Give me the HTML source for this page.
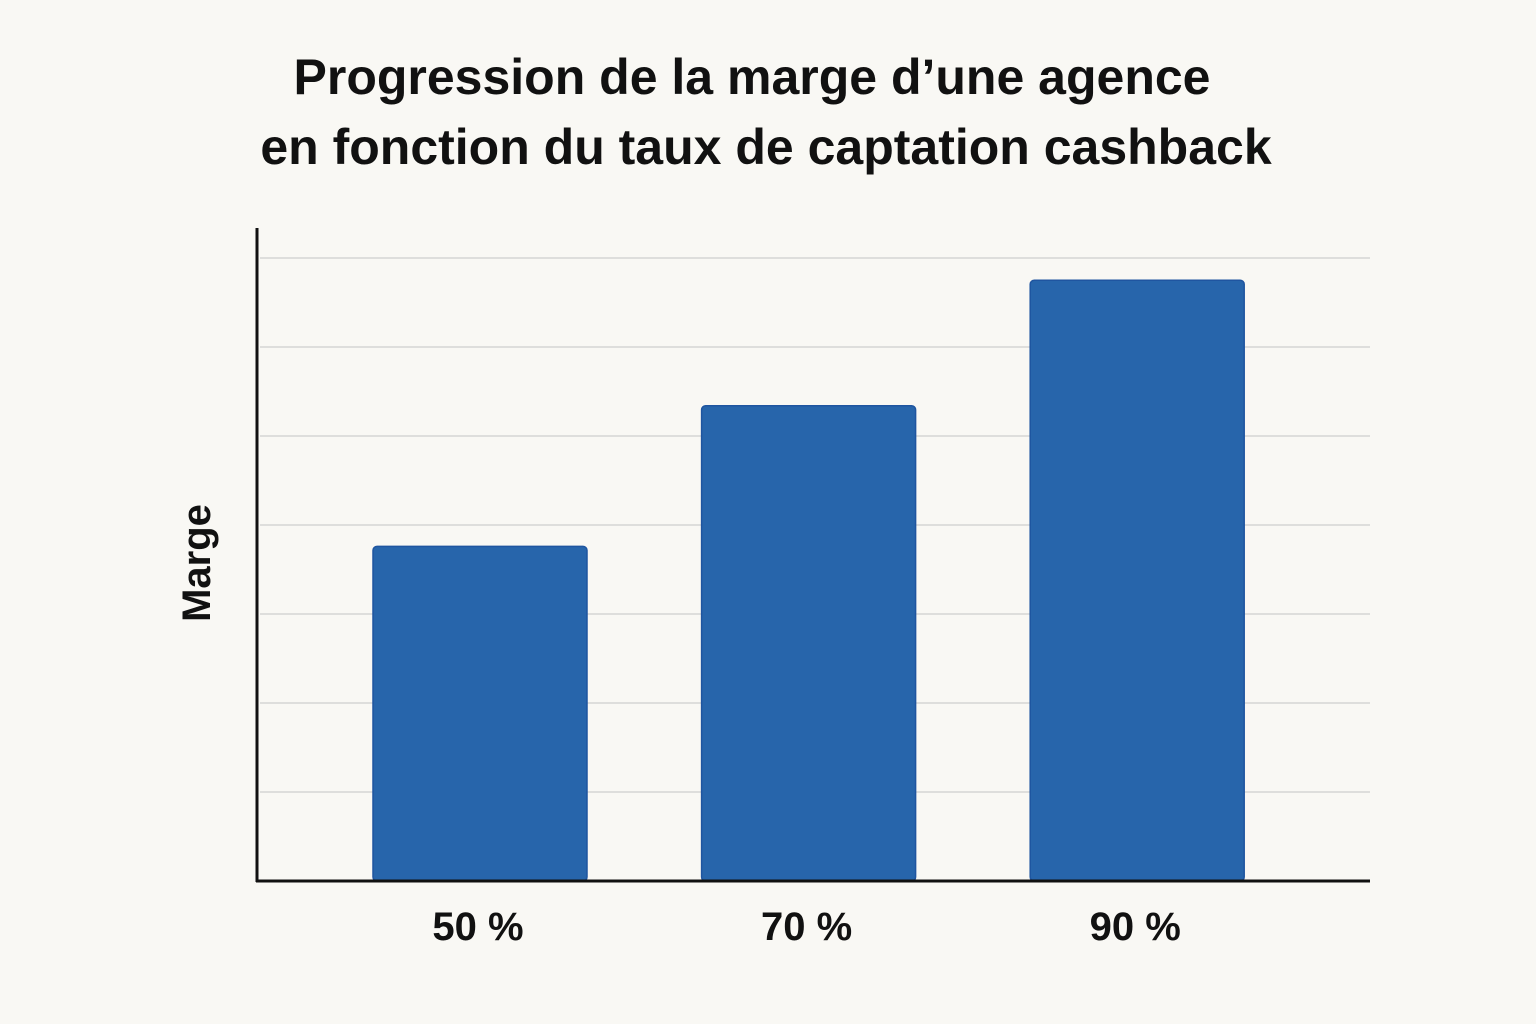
<!DOCTYPE html>
<html><head><meta charset="utf-8"><style>
html,body{margin:0;padding:0;background:#f9f8f4;}
svg{display:block;font-family:"Liberation Sans",sans-serif;}
</style></head><body>
<svg id="chart" width="1536" height="1024" viewBox="0 0 1536 1024">
<rect width="1536" height="1024" fill="#f9f8f4"/>
<text x="752" y="94" text-anchor="middle" font-size="50" font-weight="bold" fill="#111">Progression de la marge d’une agence</text>
<text x="766" y="164" text-anchor="middle" font-size="50" font-weight="bold" fill="#111">en fonction du taux de captation cashback</text>
<text transform="translate(210,563) rotate(-90)" text-anchor="middle" font-size="40" font-weight="bold" fill="#111">Marge</text>
<g id="grid"></g>
<g id="bars"></g>
<g id="labels"></g>
<line x1="257" y1="228" x2="257" y2="882" stroke="#111" stroke-width="3"/>
<line x1="256" y1="881" x2="1370" y2="881" stroke="#111" stroke-width="3"/>
</svg>
<script>
const categories = [50, 70, 90];
const tickLabels = ["50 %", "70 %", "90 %"];
const values = [3.76, 5.34, 6.75];
const gridTicks = [1, 2, 3, 4, 5, 6, 7];

const NS = "http://www.w3.org/2000/svg";
function y(v){ return 881 - v * 89; }
function x(c){ return 480 + (c - 50) * 16.43; }
const barW = 214;

const grid = document.getElementById('grid');
gridTicks.forEach(t => {
  const l = document.createElementNS(NS, 'line');
  
  
  l.setAttribute('x1', 260); l.setAttribute('x2', 1370);
  l.setAttribute('y1', y(t)); l.setAttribute('y2', y(t));
  l.setAttribute('stroke', '#d6d6d3'); l.setAttribute('stroke-width', '1.5');
  grid.appendChild(l);
});

const bars = document.getElementById('bars');
const labels = document.getElementById('labels');
categories.forEach((c, i) => {
  const r = document.createElementNS(NS, 'rect');
  
  
  r.setAttribute('x', x(c) - barW / 2);
  r.setAttribute('y', y(values[i]));
  r.setAttribute('width', barW);
  r.setAttribute('height', 881 - y(values[i]));
  r.setAttribute('rx', 4);
  r.setAttribute('fill', '#2765ab');
  r.setAttribute('stroke', '#1f55a0');
  r.setAttribute('stroke-width', '1.5');
  bars.appendChild(r);

  const t = document.createElementNS(NS, 'text');
  
  
  t.setAttribute('x', x(c) - 2);
  t.setAttribute('y', 940);
  t.setAttribute('text-anchor', 'middle');
  t.setAttribute('font-size', '40');
  t.setAttribute('font-weight', 'bold');
  t.setAttribute('fill', '#111');
  t.textContent = tickLabels[i];
  labels.appendChild(t);
});
</script>
</body></html>
